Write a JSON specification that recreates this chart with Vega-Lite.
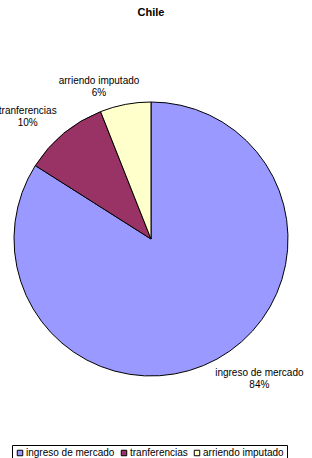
{
  "$schema": "https://vega.github.io/schema/vega-lite/v6.json",
  "autosize": "none",
  "width": 302,
  "height": 358,
  "padding": {"left": 0, "top": 60, "right": 10, "bottom": 40},
  "background": "white",
  "title": {"text": "Chile", "fontSize": 11, "fontWeight": "bold", "font": "Liberation Sans", "color": "black", "anchor": "middle", "baseline": "bottom", "offset": 17},
  "data": {"values": [
    {"category": "ingreso de mercado", "value": 84, "orden": 1, "label": "ingreso de mercado\n84%"},
    {"category": "tranferencias", "value": 10, "orden": 2, "label": "tranferencias\n10%"},
    {"category": "arriendo imputado", "value": 6, "orden": 3, "label": "arriendo imputado\n6%"}
  ]},
  "encoding": {
    "theta": {"field": "value", "type": "quantitative", "stack": true},
    "order": {"field": "orden", "type": "quantitative"}
  },
  "layer": [
    {
      "mark": {"type": "arc", "radius": 137, "stroke": "black", "strokeWidth": 1},
      "encoding": {
        "color": {
          "field": "category", "type": "nominal",
          "scale": {"domain": ["ingreso de mercado", "tranferencias", "arriendo imputado"], "range": ["#9999FF", "#993366", "#FFFFCC"]},
          "sort": null,
          "legend": {
            "orient": "none", "legendX": 12, "legendY": 385, "direction": "horizontal", "title": null,
            "strokeColor": "black", "padding": 3,
            "symbolType": "square", "symbolSize": 30, "symbolStrokeColor": "black", "symbolStrokeWidth": 1,
            "labelFontSize": 10, "labelFont": "Liberation Sans", "labelColor": "black",
            "columnPadding": 4, "labelOffset": 1
          }
        }
      }
    },
    {
      "mark": {"type": "text", "radius": 173, "dx": 25, "dy": -18, "font": "Liberation Sans", "fontSize": 10, "lineBreak": "\n", "lineHeight": 12, "align": "center", "baseline": "middle", "color": "black"},
      "encoding": {"text": {"condition": {"test": "datum.category == 'ingreso de mercado'", "field": "label"}, "value": ""}}
    },
    {
      "mark": {"type": "text", "radius": 173, "dx": -13, "dy": 5, "font": "Liberation Sans", "fontSize": 10, "lineBreak": "\n", "lineHeight": 12, "align": "center", "baseline": "middle", "color": "black"},
      "encoding": {"text": {"condition": {"test": "datum.category == 'tranferencias'", "field": "label"}, "value": ""}}
    },
    {
      "mark": {"type": "text", "radius": 160, "dx": -22, "dy": -1, "font": "Liberation Sans", "fontSize": 10, "lineBreak": "\n", "lineHeight": 12, "align": "center", "baseline": "middle", "color": "black"},
      "encoding": {"text": {"condition": {"test": "datum.category == 'arriendo imputado'", "field": "label"}, "value": ""}}
    }
  ],
  "config": {"view": {"stroke": null}}
}
